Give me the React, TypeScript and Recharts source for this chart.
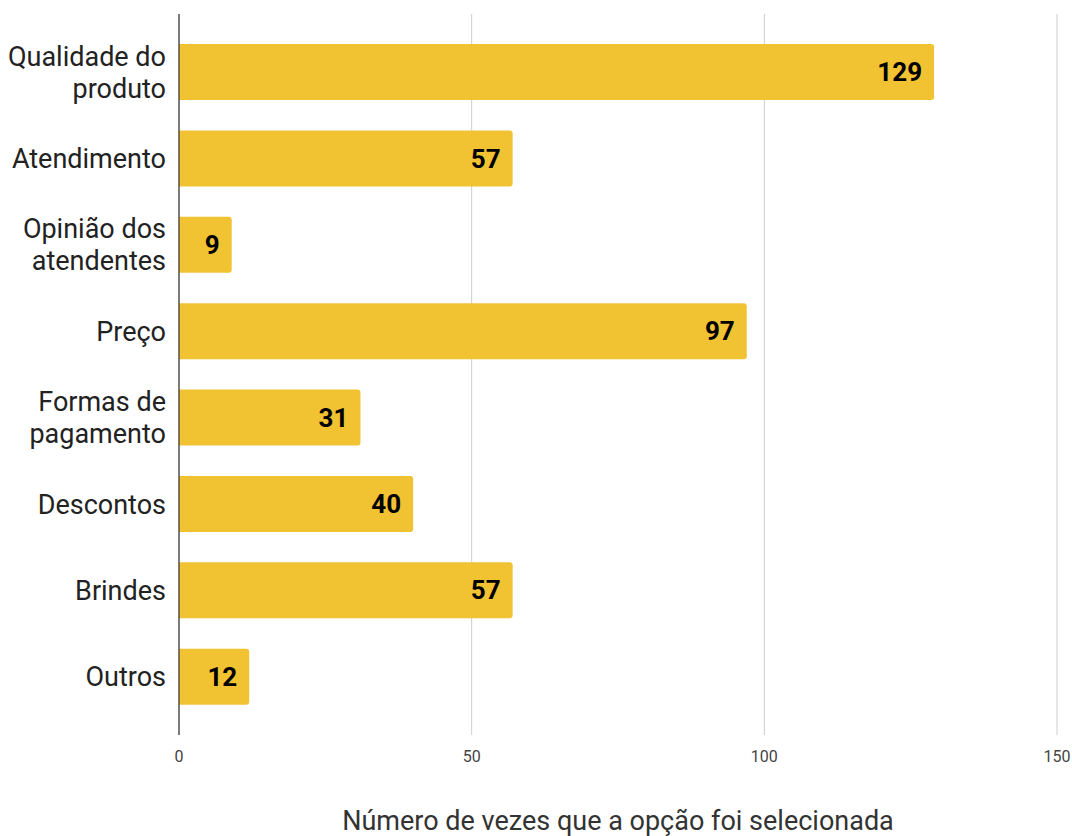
import React from "react";
import { Bar, BarChart, CartesianGrid, LabelList, Label, XAxis, YAxis } from "recharts";

const categories = [
  "Qualidade do\nproduto",
  "Atendimento",
  "Opinião dos\natendentes",
  "Preço",
  "Formas de\npagamento",
  "Descontos",
  "Brindes",
  "Outros",
];
const counts = [129, 57, 9, 97, 31, 40, 57, 12];
const xTicks = [0, 50, 100, 150];
const xTitle = "Número de vezes que a opção foi selecionada";

const data = categories.map((name, i) => ({ name, value: counts[i] }));

const FONT = "Roboto, 'Noto Sans', sans-serif";

// multi-line category labels, centred on the band
function CategoryTick(props: any) {
  const { x, y, payload } = props;
  const lines = String(payload.value).split("\n");
  const lineH = 32;
  const first = y - ((lines.length - 1) * lineH) / 2 + 9.5;
  return (
    <text x={x - 13} y={first} textAnchor="end" fontSize={27} fill="#222" fontFamily={FONT}>
      {lines.map((l, i) => (
        <tspan key={i} x={x - 13} y={first + i * lineH}>
          {l}
        </tspan>
      ))}
    </text>
  );
}

export default function App() {
  return (
    <div style={{ position: "absolute", left: 0, top: 0, width: 1072, height: 836, background: "#fff" }}>
      <BarChart
        width={1072}
        height={836}
        data={data}
        layout="vertical"
        margin={{ top: 14, right: 15, bottom: 0, left: 0 }}
        style={{ fontFamily: FONT }}
      >
        <CartesianGrid horizontal={false} stroke="#cccccc" />
        <XAxis
          type="number"
          domain={[0, 150]}
          ticks={xTicks}
          axisLine={false}
          tickLine={false}
          tickSize={0}
          tickMargin={16}
          height={101}
          tick={{ fontSize: 16, fill: "#444" }}
        >
          <Label
            value={xTitle}
            position="insideBottom"
            offset={6}
            style={{ fontSize: 27, fill: "#333", fontFamily: FONT }}
          />
        </XAxis>
        <YAxis
          type="category"
          dataKey="name"
          width={179}
          padding={{ top: 15, bottom: 15 }}
          axisLine={{ stroke: "#333", strokeWidth: 1.2 }}
          tickLine={false}
          tickSize={0}
          tickMargin={0}
          interval={0}
          tick={<CategoryTick />}
        />
        <Bar dataKey="value" fill="#F1C232" barSize={56} radius={[0, 3, 3, 0]} isAnimationActive={false}>
          <LabelList
            dataKey="value"
            position="insideRight"
            offset={12}
            style={{ fontSize: 26, fontWeight: 700, fill: "#000", fontFamily: FONT }}
          />
        </Bar>
      </BarChart>
    </div>
  );
}
